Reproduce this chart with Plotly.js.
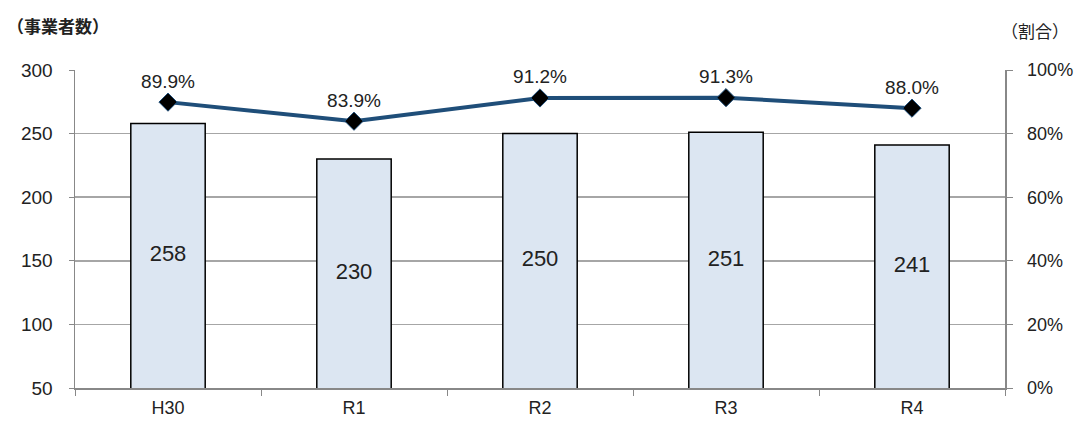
<!DOCTYPE html>
<html><head><meta charset="utf-8">
<script src="https://cdn.plot.ly/plotly-3.0.1.min.js"></script>
<style>body{margin:0;background:#fff}</style>
</head><body><div id="chart" style="width:1074px;height:421px"></div>
<script>
const categories = ["H30", "R1", "R2", "R3", "R4"];
const businessCounts = [258, 230, 250, 251, 241];
const ratios = [0.899, 0.839, 0.912, 0.913, 0.880];
const ratioLabels = ["89.9%", "83.9%", "91.2%", "91.3%", "88.0%"];
const yMin = 50, yMax = 300;

const fam = "Liberation Sans, Arial, sans-serif";
const tickFont = {family: fam, size: 19, color: "#222"};

const bars = {
  type: "bar", x: categories, y: businessCounts, yaxis: "y",
  width: 0.4,
  marker: {color: "#DCE6F2", line: {color: "#000", width: 1.5}},
  hoverinfo: "skip"
};
// bar value labels centred in the visible part of each bar (axis starts at yMin)
const barLabels = {
  type: "scatter", mode: "text", x: categories,
  y: businessCounts.map(v => (v + yMin) / 2), yaxis: "y",
  text: businessCounts.map(String), textposition: "middle center",
  textfont: {family: fam, size: 22, color: "#222"}, hoverinfo: "skip"
};
const line = {
  type: "scatter", mode: "lines+markers+text", x: categories, y: ratios, yaxis: "y2",
  line: {color: "#1F4E79", width: 4},
  marker: {symbol: "diamond", size: 14, color: "#000", line: {color: "#1F4E79", width: 1}},
  text: ratioLabels, textposition: "top center",
  textfont: {family: fam, size: 19, color: "#222"},
  cliponaxis: false, hoverinfo: "skip"
};
const layout = {
  width: 1074, height: 421,
  margin: {l: 75, r: 69, t: 70, b: 33},
  paper_bgcolor: "#fff", plot_bgcolor: "#fff",
  showlegend: false,
  xaxis: {
    type: "category", showline: true, linecolor: "#888", linewidth: 1.5,
    ticks: "outside", tickson: "boundaries", ticklen: 6, tickcolor: "#888",
    tickfont: {family: fam, size: 18, color: "#222"}, ticklabelstandoff: 3,
    showgrid: false, zeroline: false
  },
  yaxis: {
    range: [yMin, yMax], dtick: 50, tick0: 50, showline: true, linecolor: "#888", linewidth: 1.5,
    ticks: "outside", ticklen: 5, tickcolor: "#888",
    showgrid: true, gridcolor: "#A6A6A6", gridwidth: 1.5, zeroline: false,
    tickfont: tickFont, ticklabelstandoff: 12
  },
  yaxis2: {
    overlaying: "y", side: "right", range: [0, 1], dtick: 0.2, tickformat: ".0%",
    showline: true, linecolor: "#888", linewidth: 1.5,
    ticks: "outside", ticklen: 6, tickcolor: "#888", showgrid: false, zeroline: false,
    tickfont: {family: fam, size: 18, color: "#222"}, ticklabelstandoff: 11
  },
  annotations: [
    {xref: "paper", yref: "paper", x: -0.075, y: 1.14, xanchor: "left", yanchor: "middle",
     text: "<b>（事業者数）</b>", showarrow: false,
     font: {family: "Noto Sans CJK JP, sans-serif", size: 17, color: "#222"}},
    {xref: "paper", yref: "paper", x: 1.071, y: 1.125, xanchor: "right", yanchor: "middle",
     text: "（割合）", showarrow: false,
     font: {family: "Noto Sans CJK JP, sans-serif", size: 17, color: "#222"}}
  ]
};
Plotly.newPlot("chart", [bars, barLabels, line], layout, {displayModeBar: false, staticPlot: true});
</script></body></html>
